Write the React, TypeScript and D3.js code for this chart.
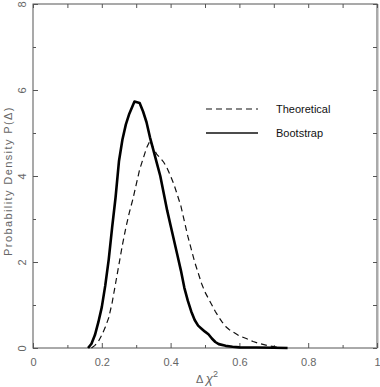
import { useEffect, useRef } from 'react';
import * as d3 from 'd3';

// Bootstrap distribution (solid line)
const bootX = [0.16, 0.17, 0.18, 0.19, 0.2, 0.21, 0.22, 0.23, 0.24, 0.25, 0.26, 0.27, 0.28, 0.295, 0.31, 0.32, 0.33, 0.34, 0.35, 0.36, 0.37, 0.38, 0.39, 0.4, 0.41, 0.42, 0.43, 0.44, 0.45, 0.46, 0.47, 0.48, 0.49, 0.5, 0.51, 0.52, 0.53, 0.54, 0.56, 0.58, 0.6, 0.65, 0.7, 0.74];
const bootY = [0, 0.1, 0.3, 0.6, 0.95, 1.45, 2.05, 2.8, 3.5, 4.35, 4.85, 5.2, 5.45, 5.73, 5.7, 5.5, 5.25, 4.9, 4.6, 4.3, 4.0, 3.6, 3.2, 2.85, 2.5, 2.15, 1.8, 1.4, 1.1, 0.85, 0.65, 0.52, 0.45, 0.38, 0.32, 0.22, 0.14, 0.09, 0.05, 0.03, 0.015, 0.01, 0.005, 0];

// Theoretical distribution (dashed line)
const theoX = [0.17, 0.18, 0.19, 0.2, 0.21, 0.22, 0.23, 0.24, 0.25, 0.26, 0.27, 0.28, 0.29, 0.3, 0.31, 0.32, 0.33, 0.34, 0.35, 0.36, 0.37, 0.38, 0.39, 0.4, 0.41, 0.42, 0.43, 0.44, 0.45, 0.46, 0.47, 0.48, 0.49, 0.5, 0.51, 0.52, 0.53, 0.54, 0.55, 0.56, 0.57, 0.58, 0.59, 0.6, 0.62, 0.64, 0.66, 0.68, 0.7, 0.72, 0.745];
const theoY = [0, 0.06, 0.15, 0.3, 0.48, 0.7, 1.05, 1.5, 1.95, 2.4, 2.8, 3.15, 3.45, 3.8, 4.15, 4.4, 4.65, 4.82, 4.65, 4.5, 4.42, 4.32, 4.18, 4.0, 3.8, 3.55, 3.3, 2.95, 2.6, 2.3, 2.0, 1.75, 1.5, 1.3, 1.15, 1.0, 0.85, 0.72, 0.6, 0.5, 0.43, 0.38, 0.33, 0.28, 0.22, 0.15, 0.1, 0.06, 0.03, 0.01, 0];

const xMajor = [0, 0.2, 0.4, 0.6, 0.8, 1];
const xMinor = [0.1, 0.3, 0.5, 0.7, 0.9];
const yMajor = [0, 2, 4, 6, 8];
const yMinor = [1, 3, 5, 7];

const legendItems = ['Theoretical', 'Bootstrap'];

const App = () => {
  const svgRef = useRef<SVGSVGElement>(null);

  useEffect(() => {
    const svg = d3.select(svgRef.current);
    svg.selectAll('*').remove();

    const left = 33, right = 377, top = 4, bottom = 348;
    const x = d3.scaleLinear().domain([0, 1]).range([left, right]);
    const y = d3.scaleLinear().domain([0, 8]).range([bottom, top]);

    const axisColor = '#555';
    const labelColor = '#666';
    const font = '"Liberation Sans", Arial, sans-serif';

    // frame
    svg.append('rect')
      .attr('x', left).attr('y', top)
      .attr('width', right - left).attr('height', bottom - top)
      .attr('fill', 'none').attr('stroke', axisColor).attr('stroke-width', 1);
    svg.append('line')
      .attr('x1', right + 0.5).attr('x2', right + 0.5)
      .attr('y1', top).attr('y2', bottom)
      .attr('stroke', '#aaa').attr('stroke-width', 2);

    const styleAxis = (g) => {
      g.select('.domain').remove();
      g.selectAll('line').attr('stroke', axisColor);
      g.selectAll('text').attr('fill', labelColor).style('font-family', font).style('font-size', '11px');
    };

    // bottom
    svg.append('g').attr('transform', `translate(0,${bottom})`)
      .call(d3.axisBottom(x).tickValues(xMajor).tickSizeInner(-5).tickSizeOuter(0).tickPadding(10)
        .tickFormat(d => (d === 0 || d === 1 ? String(d) : d3.format('.1f')(d))))
      .call(styleAxis);
    svg.append('g').attr('transform', `translate(0,${bottom})`)
      .call(d3.axisBottom(x).tickValues(xMinor).tickSizeInner(-3).tickSizeOuter(0).tickFormat(() => ''))
      .call(styleAxis);
    // top
    svg.append('g').attr('transform', `translate(0,${top})`)
      .call(d3.axisTop(x).tickValues([...xMajor, ...xMinor]).tickSizeInner(-4).tickSizeOuter(0).tickFormat(() => ''))
      .call(styleAxis);
    // left
    svg.append('g').attr('transform', `translate(${left},0)`)
      .call(d3.axisLeft(y).tickValues(yMajor).tickSizeInner(-5).tickSizeOuter(0).tickFormat(d3.format('d')))
      .call(styleAxis)
      .selectAll('text')
      .attr('x', 0).attr('dy', 0)
      .attr('text-anchor', 'middle')
      .attr('transform', 'translate(-7,0) rotate(-90)')
      .attr('y', 0)
      .attr('dominant-baseline', 'auto');
    svg.append('g').attr('transform', `translate(${left},0)`)
      .call(d3.axisLeft(y).tickValues(yMinor).tickSizeInner(-3).tickSizeOuter(0).tickFormat(() => ''))
      .call(styleAxis);
    // right
    svg.append('g').attr('transform', `translate(${right},0)`)
      .call(d3.axisRight(y).tickValues([...yMajor, ...yMinor]).tickSizeInner(-4).tickSizeOuter(0).tickFormat(() => ''))
      .call(styleAxis);

    // curves
    const line = d3.line<[number, number]>().x(d => x(d[0])).y(d => y(d[1]));
    const theo = theoX.map((v, i) => [v, theoY[i]] as [number, number]);
    const boot = bootX.map((v, i) => [v, bootY[i]] as [number, number]);

    svg.append('path').attr('d', line(theo))
      .attr('fill', 'none').attr('stroke', '#111').attr('stroke-width', 1.2)
      .attr('stroke-dasharray', '6,4');
    svg.append('path').attr('d', line(boot))
      .attr('fill', 'none').attr('stroke', '#000').attr('stroke-width', 2.6)
      .attr('stroke-linejoin', 'round');

    // legend
    legendItems.forEach((name, i) => {
      const ly = 109 + i * 24;
      svg.append('line')
        .attr('x1', 206).attr('x2', 258).attr('y1', ly).attr('y2', ly)
        .attr('stroke', '#111')
        .attr('stroke-width', i === 0 ? 1.2 : 1.4)
        .attr('stroke-dasharray', i === 0 ? '6,4' : null);
      svg.append('text')
        .attr('x', 276).attr('y', ly + 4)
        .style('font-family', font).style('font-size', '11px')
        .attr('fill', '#111')
        .text(name);
    });

    // axis titles
    svg.append('text')
      .attr('transform', `translate(12,181) rotate(-90)`)
      .attr('text-anchor', 'middle')
      .style('font-family', font).style('font-size', '11px')
      .style('letter-spacing', '1.4px')
      .attr('fill', labelColor)
      .text('Probability Density P(Δ)');

    const xt = svg.append('text')
      .attr('x', 196).attr('y', 383)
      .style('font-family', font).style('font-size', '11px')
      .attr('fill', labelColor);
    xt.append('tspan').text('Δ ');
    xt.append('tspan').style('font-style', 'italic').style('font-size', '13px').text('χ');
    xt.append('tspan').attr('dy', -6).style('font-size', '9px').text('2');
  }, []);

  return (
    <div style={{ position: 'absolute', left: 0, top: 0 }}>
      <svg ref={svgRef} width={380} height={387} style={{ display: 'block', background: '#fff' }} />
    </div>
  );
};

export default App;
